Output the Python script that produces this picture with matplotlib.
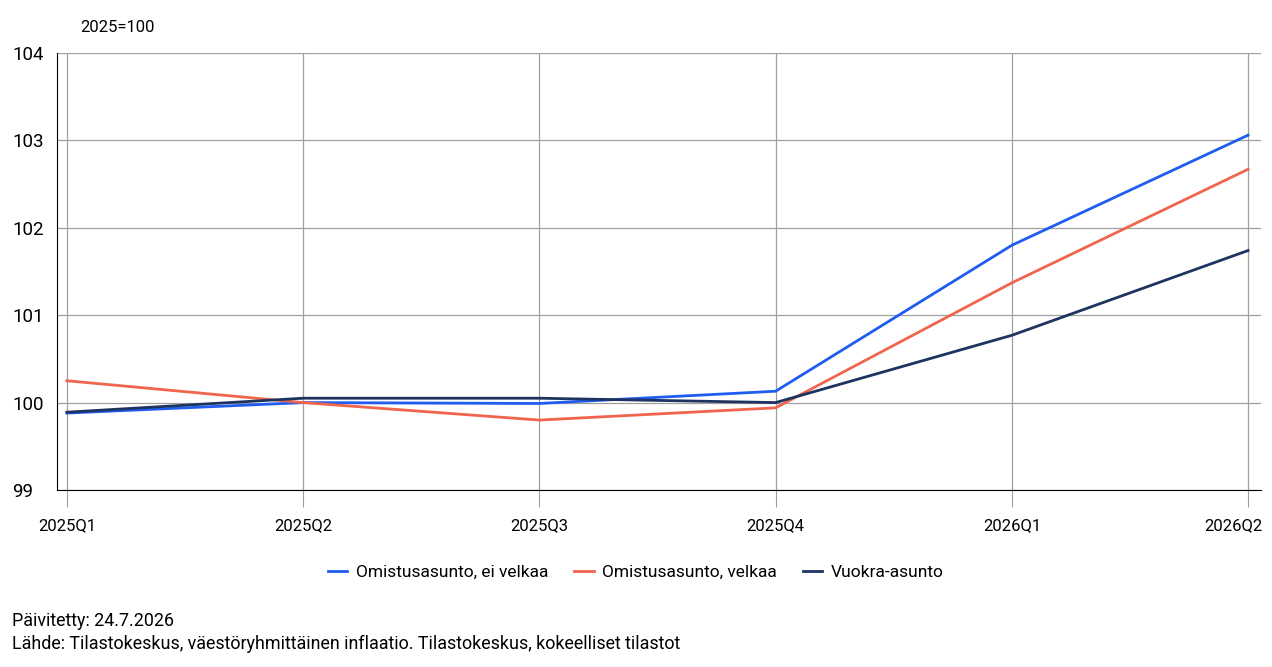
import matplotlib
matplotlib.use("Agg")
import matplotlib.pyplot as plt
import matplotlib.transforms as mtransforms

plt.rcParams['font.family'] = ['Roboto', 'DejaVu Sans']

quarters = ["2025Q1", "2025Q2", "2025Q3", "2025Q4", "2026Q1", "2026Q2"]
ei_velkaa = [99.88, 100.00, 99.99, 100.13, 101.80, 103.06]
velkaa = [100.25, 100.00, 99.80, 99.94, 101.37, 102.67]
vuokra = [99.89, 100.05, 100.05, 100.00, 100.77, 101.74]

fig = plt.figure(figsize=(12.72, 6.67), dpi=100)
ax = fig.add_axes([0.0448, 0.2654, 0.9466, 0.6551])

x = range(len(quarters))
ax.plot(x, ei_velkaa, color="#1f5cf0", lw=2, label="Omistusasunto, ei velkaa")
ax.plot(x, velkaa, color="#f0654e", lw=2, label="Omistusasunto, velkaa")
ax.plot(x, vuokra, color="#1d3461", lw=2, label="Vuokra-asunto")

ax.set_xlim(-0.042, 5.055)
ax.set_ylim(99, 104)
ax.set_xticks(list(x))
ax.set_xticklabels(quarters)
ax.set_yticks([99, 100, 101, 102, 103, 104])
ax.grid(True, color="#a0a0a0", lw=0.9)
ax.set_axisbelow(True)
for s in ["top", "right"]:
    ax.spines[s].set_visible(False)
ax.spines["left"].set_color("black")
ax.spines["bottom"].set_color("black")
ax.tick_params(axis="x", length=12, color="#a0a0a0", labelsize=12, pad=8)
ax.tick_params(axis="y", length=0, labelsize=13.5, pad=32.4)
for lbl in ax.get_yticklabels():
    lbl.set_horizontalalignment("left")

# last x label sits inside the figure edge
last = ax.get_xticklabels()[-1]
last.set_horizontalalignment("right")
last.set_transform(last.get_transform() +
                   mtransforms.ScaledTranslation(14 / 100, 0, fig.dpi_scale_trans))

fig.text(80 / 1272, 1 - 28 / 667, "2025=100", fontsize=12, va="center")
fig.legend(loc="center", bbox_to_anchor=(0.5, 1 - 572 / 667), ncol=3,
           frameon=False, fontsize=12.5, handlelength=1.1, columnspacing=1.5,
           handletextpad=0.5)
fig.text(12 / 1272, 1 - 621 / 667, "Päivitetty: 24.7.2026", fontsize=12.9, va="center")
fig.text(12 / 1272, 1 - 644 / 667,
         "Lähde: Tilastokeskus, väestöryhmittäinen inflaatio. Tilastokeskus, kokeelliset tilastot",
         fontsize=12.9, va="center")

fig.savefig("out.png", dpi=100)
